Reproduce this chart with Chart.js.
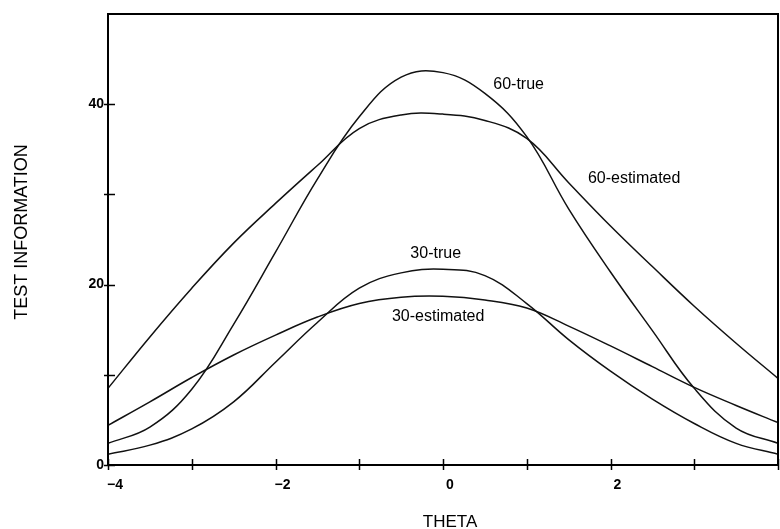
<!DOCTYPE html>
<html>
<head>
<meta charset="utf-8">
<script src="https://cdn.jsdelivr.net/npm/chart.js@4.4.1/dist/chart.umd.min.js"></script>
<style>
  html, body { margin: 0; padding: 0; background: #fff; }
  #wrap { width: 780px; height: 529px; }
</style>
</head>
<body>
<div id="wrap"><canvas id="chart"></canvas></div>
<script>
// values
const theta = [-4, -3.5, -3, -2.5, -2, -1.5, -1, -0.5, 0, 0.5, 1, 1.5, 2, 2.5, 3, 3.5, 4];
const true60 = [2.4, 4.2, 8.4, 15.6, 23.6, 31.7, 38.6, 43.0, 43.5, 41.2, 36.4, 28.4, 21.4, 14.9, 8.5, 4.1, 2.4];
const est60 = [8.5, 14.2, 19.6, 24.6, 29.0, 33.2, 37.3, 38.8, 38.9, 38.2, 36.2, 31.3, 26.5, 22.0, 17.6, 13.5, 9.6];
const true30 = [1.2, 2.2, 4.0, 7.0, 11.4, 15.8, 19.6, 21.3, 21.7, 21.0, 17.9, 13.9, 10.4, 7.3, 4.6, 2.4, 1.2];
const est30 = [4.4, 7.0, 9.7, 12.2, 14.4, 16.4, 17.9, 18.6, 18.7, 18.3, 17.4, 15.4, 13.2, 10.9, 8.6, 6.6, 4.7];

const xTickLabels = [-4, -2, 0, 2];
const yTickLabels = [0, 20, 40];

// curve labels, anchored in data units (left edge, middle)
const curveNames = ['60-true', '60-estimated', '30-true', '30-estimated'];
const nameX = [0.6, 1.73, -0.39, -0.61];
const nameY = [42.2, 31.8, 23.4, 16.4];

const FONT = '"Liberation Sans", Arial, Helvetica, sans-serif';

function toPoints(ys) {
  return theta.map((t, i) => ({ x: t, y: ys[i] }));
}

function fmt(v) {
  return v < 0 ? '\u2212' + Math.abs(v) : String(v);
}

const line = (label, ys) => ({
  label: label,
  data: toPoints(ys),
  borderColor: '#111',
  borderWidth: 1.5,
  pointRadius: 0,
  fill: false,
  tension: 0.4
});

// box, crossing tick marks, axis titles and curve names
const decorations = {
  id: 'decorations',
  afterDatasetsDraw(chart) {
    const { ctx, chartArea: a, scales: { x, y } } = chart;
    ctx.save();
    ctx.strokeStyle = '#000';
    ctx.lineWidth = 2;
    ctx.strokeRect(a.left, a.top, a.right - a.left, a.bottom - a.top);

    ctx.lineWidth = 1.5;
    ctx.beginPath();
    x.ticks.forEach(t => {
      const px = Math.round(x.getPixelForValue(t.value)) + 0.5;
      ctx.moveTo(px, a.bottom - 6);
      ctx.lineTo(px, a.bottom + 5);
    });
    y.ticks.forEach(t => {
      if (t.value >= 50) return;
      const py = Math.round(y.getPixelForValue(t.value)) + 0.5;
      ctx.moveTo(a.left - 4, py);
      ctx.lineTo(a.left + 7, py);
    });
    ctx.stroke();

    ctx.fillStyle = '#000';
    ctx.font = '16px ' + FONT;
    ctx.textAlign = 'left';
    ctx.textBaseline = 'middle';
    curveNames.forEach((n, i) => {
      ctx.fillText(n, x.getPixelForValue(nameX[i]), y.getPixelForValue(nameY[i]));
    });

    ctx.textAlign = 'center';
    ctx.font = '17px ' + FONT;
    ctx.fillText('THETA', 450, 522);

    ctx.translate(22, 232);
    ctx.rotate(-Math.PI / 2);
    ctx.font = '18px ' + FONT;
    ctx.fillText('TEST INFORMATION', 0, 0);
    ctx.restore();
  }
};

new Chart(document.getElementById('chart'), {
  type: 'line',
  data: {
    datasets: [
      line('60-true', true60),
      line('60-estimated', est60),
      line('30-true', true30),
      line('30-estimated', est30)
    ]
  },
  options: {
    responsive: true,
    maintainAspectRatio: false,
    animation: false,
    layout: { padding: { top: 14, right: 2, left: 0, bottom: 0 } },
    plugins: {
      legend: { display: false },
      tooltip: { enabled: false }
    },
    scales: {
      x: {
        type: 'linear',
        min: -4,
        max: 4,
        grid: { display: false, drawTicks: false },
        border: { display: false },
        ticks: {
          stepSize: 1,
          autoSkip: false,
          maxRotation: 0,
          padding: 12,
          labelOffset: 7,
          color: '#000',
          font: { family: FONT, size: 14, weight: 'bold' },
          callback: v => xTickLabels.includes(v) ? fmt(v) : ''
        },
        afterFit: s => { s.height = 64; s.paddingLeft = 0; s.paddingRight = 0; }
      },
      y: {
        min: 0,
        max: 50,
        grid: { display: false, drawTicks: false },
        border: { display: false },
        ticks: {
          stepSize: 10,
          padding: 4,
          color: '#000',
          font: { family: FONT, size: 14, weight: 'bold' },
          callback: v => yTickLabels.includes(v) ? fmt(v) : ''
        },
        afterFit: s => { s.width = 108; s.paddingTop = 0; s.paddingBottom = 0; }
      }
    }
  },
  plugins: [decorations]
});
</script>
</body>
</html>
